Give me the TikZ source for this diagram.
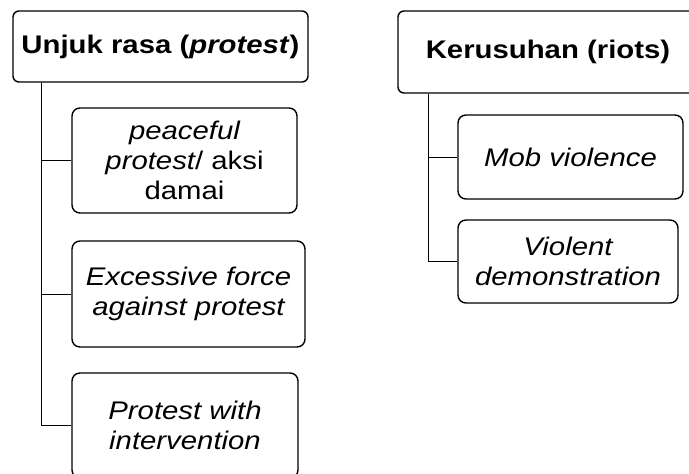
\documentclass[tikz,border=0pt]{standalone}
\usepackage{fontspec}
\setmainfont{Liberation Sans}[FakeStretch=1.15]
\usetikzlibrary{positioning}

\begin{document}
\begin{tikzpicture}[
    x=1pt, y=-1pt,
    rootbox/.style={rectangle, rounded corners=6pt, draw, line width=1.4pt, align=center, inner sep=0pt, font=\fontsize{25.5}{30}\selectfont\bfseries},
    leafbox/.style={rectangle, rounded corners=8pt, draw, line width=1.4pt, align=center, inner sep=0pt, font=\fontsize{25.5}{30}\selectfont\itshape},
    link/.style={line width=0.9pt}
  ]
    \useasboundingbox (0,0) rectangle (689,474);

    % left tree
    \node[rootbox, minimum width=295pt, minimum height=71pt] (protest) at (160.5,46.5) {Unjuk rasa (\textit{protest})};
    \node[leafbox, minimum width=225pt, minimum height=105pt] (peaceful) at (184.5,160.5) {peaceful\\protest\upshape/ aksi\\\upshape damai};
    \node[leafbox, minimum width=233pt, minimum height=106pt] (excessive) at (188.5,294) {Excessive force\\against protest};
    \node[leafbox, minimum width=226pt, minimum height=105pt] (intervention) at (185,425.5) {Protest with\\intervention};

    \draw[link] ([xshift=29pt]protest.south west) |- (peaceful.west);
    \draw[link] ([xshift=29pt]protest.south west) |- (excessive.west);
    \draw[link] ([xshift=29pt]protest.south west) |- (intervention.west);

    % right tree
    \node[rootbox, minimum width=300pt, minimum height=82pt] (riots) at (548,52) {Kerusuhan (riots)};
    \node[leafbox, minimum width=225pt, minimum height=84pt] (mob) at (570.5,157) {Mob violence};
    \node[leafbox, minimum width=220pt, minimum height=83pt] (violent) at (568,261.5) {Violent\\demonstration};

    \draw[link] ([xshift=31pt]riots.south west) |- (mob.west);
    \draw[link] ([xshift=31pt]riots.south west) |- (violent.west);
  \end{tikzpicture}
\end{document}
